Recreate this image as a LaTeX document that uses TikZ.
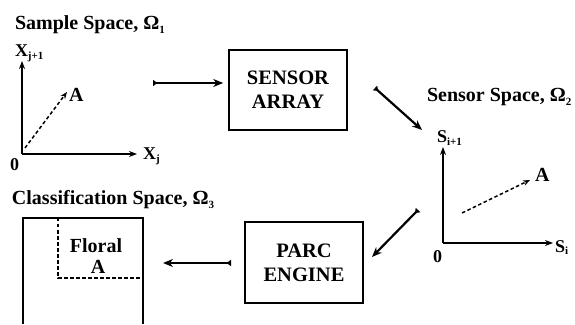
\documentclass[tikz,border=0pt]{standalone}
\usepackage{fontspec}
\setmainfont{Liberation Serif}
\usetikzlibrary{arrows.meta}
\newcommand{\lowsub}[1]{\raisebox{-0.35ex}{\fontsize{11}{11}\selectfont #1}}
\tikzset{
  label text/.style={text=drawColor,anchor=base west,inner sep=0pt,outer sep=0pt,font=\bfseries\fontsize{20}{22}\selectfont},
  axis text/.style={label text,font=\bfseries\fontsize{18}{20}\selectfont},
  engine box/.style={draw=drawColor,line width=1.6pt,minimum width=118pt,minimum height=80pt,align=center,inner sep=0pt,font=\bfseries\fontsize{20.5}{24}\selectfont},
  axis line/.style={draw=drawColor,line width=1.6pt,-{Stealth[length=8pt,width=6pt]}},
  vector line/.style={draw=drawColor,line width=1.5pt,dash pattern=on 3.5pt off 2.5pt,-{Stealth[length=7pt,width=5.5pt]}},
  flow line/.style={draw=drawColor,line width=2.2pt,{Latex[reversed,length=5pt,width=7pt]}-{Stealth[length=10pt,width=8pt]}}
}
\begin{document}
\begin{tikzpicture}[x=1pt,y=1pt]
\definecolor{drawColor}{RGB}{0,0,0}
\definecolor{fillColor}{RGB}{255,255,255}
\path[use as bounding box,fill=fillColor] (0,0) rectangle (575,324);

% sample space
\node[label text] (t1) at ( 15,294) {Sample Space, Ω\lowsub{1}};
\coordinate (o1) at ( 22,170);
\coordinate (x1) at (137,170);
\coordinate (y1) at ( 22,263);
\path[axis line] (o1) -- (x1);
\path[axis line] (o1) -- (y1);
\node[axis text] (xj) at (143,164) {X\lowsub{j}};
\node[axis text] (xjj) at ( 15,267) {X\lowsub{j+1}};
\node[axis text] (z1) at ( 10,153) {0};
\coordinate (v1) at ( 25,176);
\coordinate (a1) at ( 67,232);
\path[vector line] (v1) -- (a1);
\node[label text] (la1) at ( 69,222) {A};

% sensor array
\node[engine box] (sensor) at (288,234) {SENSOR\\ARRAY};
\coordinate (s1) at (153,241);
\path[flow line,shorten >=5pt] (s1) -- (sensor.west |- s1);

% sensor space
\node[label text] (t2) at (427,222) {Sensor Space, Ω\lowsub{2}};
\coordinate (s2) at (375,236);
\coordinate (e2) at (422,194);
\path[flow line] (s2) -- (e2);
\coordinate (o2) at (443, 81);
\coordinate (x2) at (553, 81);
\coordinate (y2) at (443,177);
\path[axis line] (o2) -- (x2);
\path[axis line] (o2) -- (y2);
\node[axis text] (si) at (555, 72) {S\lowsub{i}};
\node[axis text] (sii) at (437,181) {S\lowsub{i+1}};
\node[axis text] (z2) at (433, 62) {0};
\coordinate (v2) at (462,111);
\coordinate (a2) at (530,144);
\path[vector line] (v2) -- (a2);
\node[label text] (la2) at (535,142) {A};

% parc engine
\node[engine box,minimum height=81pt] (parc) at (304,61.5) {PARC\\ENGINE};
\coordinate (s3) at (418,114);
\coordinate (e3) at (372, 67);
\path[flow line] (s3) -- (e3);
\coordinate (s4) at (231, 61);
\coordinate (e4) at (163, 61);
\path[flow line] (s4) -- (e4);

% classification space
\node[label text] (t3) at ( 12,119) {Classification Space, Ω\lowsub{3}};
\path[draw=drawColor,line width=1.6pt] (23,0) -- (23,106) -- (143,106) -- (143,0);
\path[draw=drawColor,line width=1.3pt,dash pattern=on 3.5pt off 2.5pt] (58,106) -- (58,46) -- (143,46);
\node[label text,anchor=base] (fl) at ( 96, 72) {Floral};
\node[label text,anchor=base] (fa) at ( 98, 51) {A};
\end{tikzpicture}
\end{document}
